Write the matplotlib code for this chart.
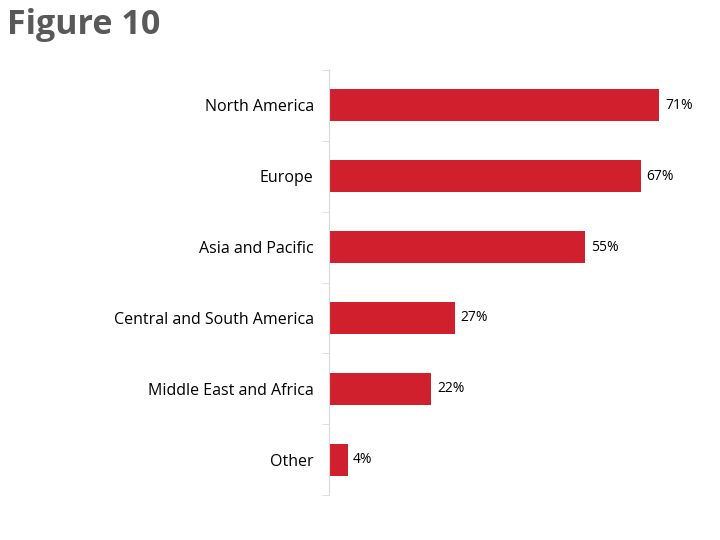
import matplotlib.pyplot as plt
import numpy as np

regions = ["North America", "Europe", "Asia and Pacific",
           "Central and South America", "Middle East and Africa", "Other"]
shares = [71, 67, 55, 27, 22, 4]

plt.rcParams['font.family'] = ['Open Sans', 'DejaVu Sans']

fig = plt.figure(figsize=(7.2, 5.4), dpi=100)
ax = fig.add_axes([329/720, 1-495/540, 1-329/720, 425/540])

y = np.arange(len(regions))
ax.barh(y, shares, height=0.45, color="#D0202E")
for yi, v in zip(y, shares):
    ax.text(v + 1.2, yi, f"{v}%", va="center", ha="left", fontsize=10, color="#000000")

ax.set_ylim(len(regions) - 0.5, -0.5)
ax.set_xlim(0, 84)
ax.set_yticks(y)
ax.set_yticklabels(regions, fontsize=11.5)
ax.set_yticks(np.arange(-0.5, len(regions)), minor=True)
ax.tick_params(axis="y", which="major", length=0, pad=11)
ax.tick_params(axis="y", which="minor", length=5, color="#D9D9D9", direction="out")
ax.set_xticks([])
for s in ["top", "right", "bottom"]:
    ax.spines[s].set_visible(False)
ax.spines["left"].set_color("#D9D9D9")

fig.text(0.01, 0.953, "Figure 10", fontsize=24.5, fontweight="bold",
         color="#595959", ha="left", va="center")

fig.savefig("out.png", dpi=100)
